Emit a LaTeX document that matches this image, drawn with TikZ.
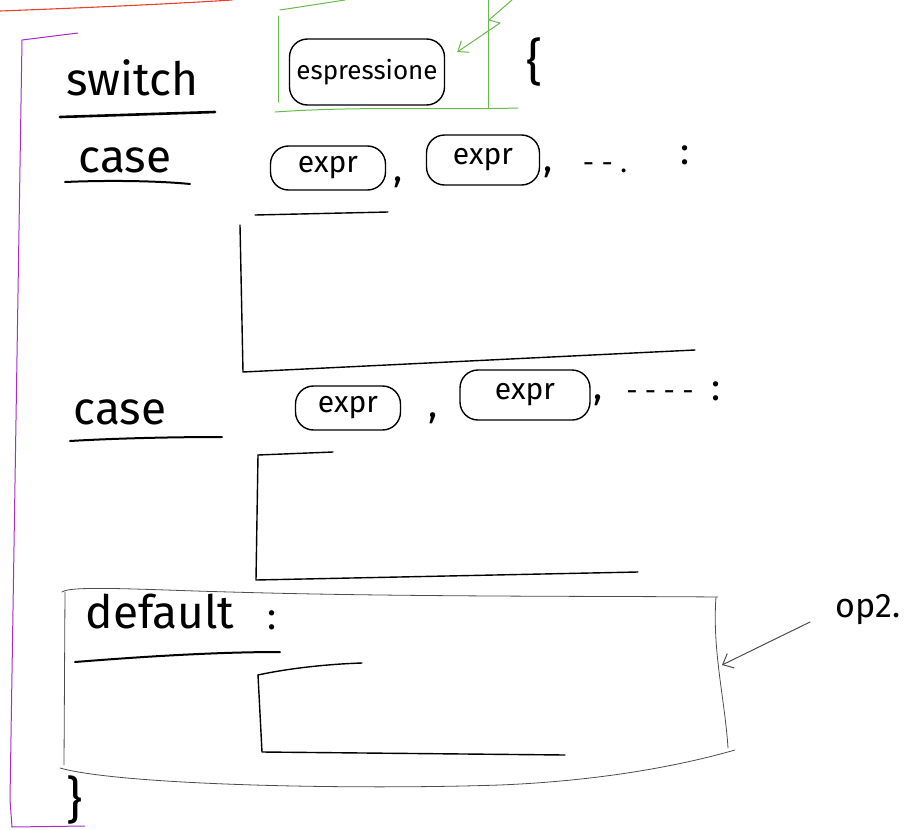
\documentclass[tikz,border=0pt]{standalone}
\usepackage{fontspec}
\setmainfont{Fira Sans}
\usetikzlibrary{arrows.meta}
\definecolor{sketchred}{HTML}{E8412C}
\definecolor{sketchpurple}{HTML}{A82CC8}
\definecolor{sketchgreen}{HTML}{66BB4A}
\begin{document}
\begin{tikzpicture}[x=1pt,y=-1pt,
  ink/.style={line width=1.4pt,line cap=round,line join=round},
  thinink/.style={line width=0.8pt,black!70,line cap=round,line join=round},
  greenink/.style={line width=1pt,sketchgreen,line cap=round,line join=round},
  kw/.style={font=\fontsize{46}{46}\selectfont,inner sep=0pt},
  sym/.style={font=\fontsize{38}{38}\selectfont,inner sep=0pt},
  brace/.style={font=\fontsize{50}{50}\selectfont,inner sep=0pt},
  small/.style={font=\fontsize{28}{28}\selectfont,inner sep=0pt},
  blob/.style={draw,line width=1.4pt,rounded corners=18pt,inner sep=0pt,font=\fontsize{30}{30}\selectfont}]
\useasboundingbox (0,0) rectangle (919,830);

% red line at the top
\draw[sketchred,line width=1.1pt,line cap=round] (0,11) .. controls (80,8) and (170,4) .. (232,0);

% purple bracket
\draw[sketchpurple,line width=1pt,line join=round] (78,33) -- (22,40) -- (10,800) -- (12,827) -- (85,826);

% switch line
\node[kw] (sw) at (132,78) {switch};
\draw[ink,line width=2.6pt] (60,117) -- (215,112);

% green box around the expression
\draw[greenink] (280,10) -- (345,0);
\draw[greenink] (278,16) -- (278,102);
\draw[greenink] (275,112) .. controls (360,106) and (450,110) .. (518,108);
\draw[greenink] (488,0) -- (488,108);
\node[blob,minimum width=155pt,minimum height=66pt,font=\fontsize{26}{26}\selectfont] (esp) at (367,72) {espressione};
\coordinate (g0) at (512,0);
\coordinate (g1) at (489,20);
\coordinate (g2) at (500,23);
\draw[greenink,-{Straight Barb[length=9pt,width=14pt]}] (g0) -- (g1) -- (g2) -- ([shift={(12,-20)}]esp.east);
\node[brace] (ob) at (535,62) {\{};

% first case
\node[kw] (c1) at (125,160) {case};
\draw[ink,line width=2pt] (65,182) .. controls (110,180) and (160,181) .. (190,184);
\node[blob,minimum width=115pt,minimum height=44pt] (e1) at (328,168) {expr};
\node[sym] (k1) at (398,182) {,};
\node[blob,minimum width=113pt,minimum height=50pt] (e2) at (483,160) {expr};
\node[sym] (k2) at (548,172) {,};
\node[small] (d1) at (605,168) {- - .};
\node[sym] (col1) at (685,155) {:};

% first code block
\draw[ink] (255,215) -- (388,212);
\draw[ink] (240,225) -- (243,372) -- (695,350);

% second case
\node[kw] (c2) at (120,412) {case};
\draw[ink,line width=2pt] (70,441) .. controls (120,438) and (180,437) .. (222,437);
\node[blob,minimum width=105pt,minimum height=44pt] (e3) at (348,408) {expr};
\node[sym] (k3) at (433,418) {,};
\node[blob,minimum width=130pt,minimum height=50pt] (e4) at (525,395) {expr};
\node[sym] (k4) at (598,400) {,};
\node[small] (d2) at (660,396) {- - - -};
\node[sym] (col2) at (716,391) {:};

% second code block
\draw[ink] (258,455) -- (333,452);
\draw[ink] (258,455) -- (256,580) -- (638,572);

% default box
\draw[thinink] (62,592) .. controls (70,585) and (150,590) .. (230,592) .. controls (400,597) and (600,596) .. (718,597);
\draw[thinink] (65,592) -- (64,765);
\draw[thinink] (716,597) .. controls (712,650) and (725,700) .. (728,748);
\draw[thinink] (60,768) .. controls (120,785) and (350,790) .. (500,785) .. controls (620,780) and (700,760) .. (735,750);
\node[kw] (df) at (160,612) {default};
\node[sym] (col3) at (272,620) {:};
\draw[ink,line width=2pt] (75,662) .. controls (150,656) and (220,652) .. (280,652);

% third code block
\draw[ink] (258,675) .. controls (290,668) and (330,664) .. (362,663);
\draw[ink] (258,675) -- (262,752) -- (565,755);

% closing brace
\node[brace] (cb) at (75,800) {\}};

% op2 annotation
\node[small,font=\fontsize{34}{34}\selectfont] (op) at (868,610) {op2.};
\coordinate (opt) at (722,665);
\draw[thinink,line width=1pt,-{Straight Barb[length=9pt,width=16pt]}] ([shift={(-58,12)}]op.center) -- (opt);
\end{tikzpicture}
\end{document}
